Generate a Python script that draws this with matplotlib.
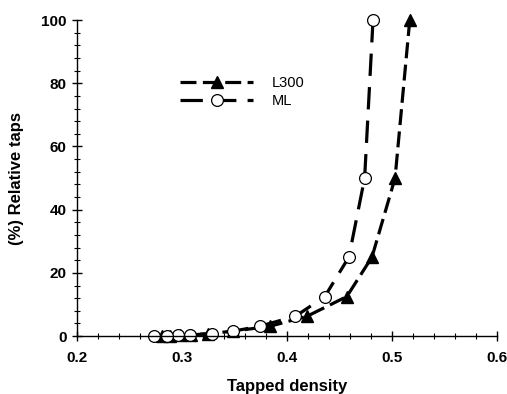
import matplotlib
matplotlib.use("Agg")
import matplotlib.pyplot as plt
from matplotlib.ticker import MultipleLocator

plt.rcParams['font.family'] = ['Liberation Sans', 'DejaVu Sans']

# Data
relative_taps = [100, 50, 25, 12.5, 6.25, 3.125, 1.5625, 0.78, 0.39, 0.2, 0.1, 0.05]
l300_density = [0.517, 0.503, 0.481, 0.457, 0.419, 0.384, 0.349, 0.325, 0.309, 0.298, 0.289, 0.281]
ml_density = [0.482, 0.474, 0.459, 0.436, 0.408, 0.374, 0.349, 0.329, 0.308, 0.296, 0.286, 0.273]

fig = plt.figure(figsize=(5.07, 3.94), dpi=100)
ax = fig.add_axes([0.152, 0.147, 0.828, 0.802])

ax.plot(l300_density, relative_taps, color='black', lw=2.3, ls=(0, (5, 2)),
        marker='^', ms=8, mfc='black', mec='black', label='L300', clip_on=False)
ax.plot(ml_density, relative_taps, color='black', lw=2.3, ls=(0, (7, 3.5)),
        marker='o', ms=8.5, mfc='white', mec='black', mew=0.9, label='ML', clip_on=False)

ax.set_xlim(0.2, 0.6)
ax.set_ylim(0, 100)
ax.xaxis.set_major_locator(MultipleLocator(0.1))
ax.xaxis.set_minor_locator(MultipleLocator(0.02))
ax.yaxis.set_major_locator(MultipleLocator(20))
ax.yaxis.set_minor_locator(MultipleLocator(4))
ax.set_xticks([0.2, 0.3, 0.4, 0.5, 0.6])
ax.set_xticklabels(['0.2', '0.3', '0.4', '0.5', '0.6'])

for s in ['top', 'right']:
    ax.spines[s].set_visible(False)
for s in ['left', 'bottom']:
    ax.spines[s].set_linewidth(1.0)

ax.tick_params(which='major', direction='inout', length=7, width=1.0, labelsize=11)
ax.tick_params(axis='x', which='major', pad=7)
ax.tick_params(axis='y', which='major', pad=4)
ax.tick_params(which='minor', direction='inout', length=5, width=0.8)
for lbl in ax.get_xticklabels() + ax.get_yticklabels():
    lbl.set_fontweight('bold')

ax.set_xlabel('Tapped density', fontsize=12, fontweight='bold', labelpad=10)
ax.set_ylabel('(%) Relative taps', fontsize=12, fontweight='bold', labelpad=12)

leg = ax.legend(loc='upper left', bbox_to_anchor=(0.232, 0.84), frameon=False,
                fontsize=10.5, handlelength=5.0, handletextpad=1.3, labelspacing=0.25,
                borderaxespad=0)

fig.savefig('out.png', dpi=100)
